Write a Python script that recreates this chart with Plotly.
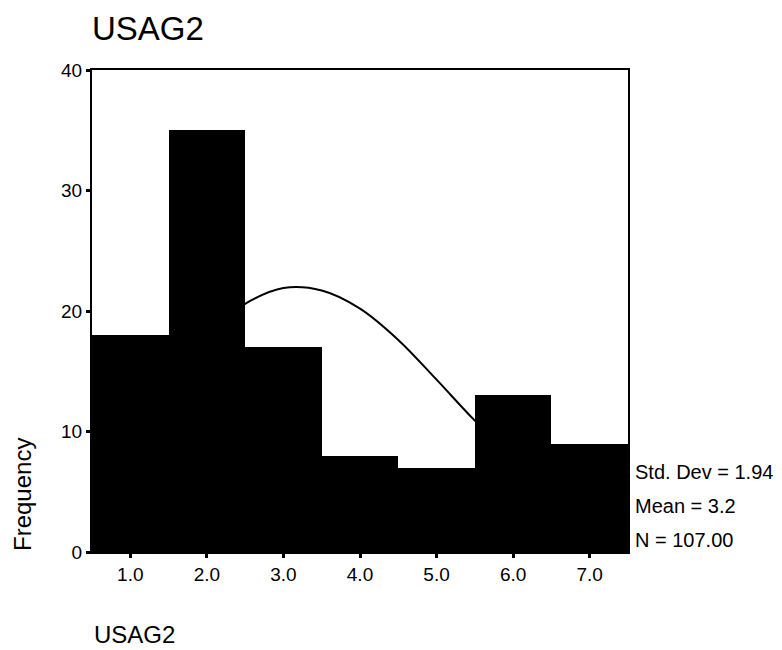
import plotly.graph_objects as go

# histogram of USAG2
bin_centers = [1, 2, 3, 4, 5, 6, 7]
frequencies = [18, 35, 17, 8, 7, 13, 9]

# fitted normal curve
curve_x = [0.5, 1.0, 1.5, 2.0, 2.5, 3.0, 3.5, 4.0, 4.5, 5.0, 5.5, 6.0, 6.5, 7.0, 7.5]
curve_y = [8.4, 11.6, 15.0, 18.2, 20.6, 21.9, 21.7, 20.2, 17.6, 14.3, 10.9, 7.8, 5.2, 3.2, 1.9]

stats_lines = ["Std. Dev = 1.94", "Mean = 3.2", "N = 107.00"]
x_ticks = [1, 2, 3, 4, 5, 6, 7]
y_ticks = [0, 10, 20, 30, 40]

FONT = "Liberation Sans, Arial, Helvetica, sans-serif"

# page body has an 8px margin, so the figure is drawn a bit smaller
W, H = 774, 642
L, T, R, B = 84, 62, 154, 98
PW, PH = W - L - R, H - T - B

fig = go.Figure()

# curve sits on the base axes so the bars (overlay axes) cover it
fig.add_trace(go.Scatter(
    x=curve_x, y=curve_y, mode="lines",
    line=dict(color="black", width=2, shape="spline"),
    xaxis="x", yaxis="y", showlegend=False, hoverinfo="skip",
))
fig.add_trace(go.Bar(
    x=bin_centers, y=frequencies, width=1,
    marker=dict(color="black", line=dict(width=0)),
    xaxis="x2", yaxis="y2", showlegend=False,
))

axis_font = dict(family=FONT, size=19, color="black")
fig.update_layout(
    width=W, height=H,
    margin=dict(l=L, r=R, t=T, b=B),
    paper_bgcolor="white", plot_bgcolor="white",
    bargap=0,
    xaxis=dict(
        range=[0.5, 7.5], tickvals=x_ticks, tickformat=".1f",
        ticks="outside", ticklen=4, tickwidth=3, tickcolor="black",
        showline=True, mirror=True, linecolor="black", linewidth=2,
        showgrid=False, zeroline=False, tickfont=axis_font,
    ),
    yaxis=dict(
        range=[0, 40], tickvals=y_ticks,
        ticks="outside", ticklen=4, tickwidth=3, tickcolor="black",
        showline=True, mirror=True, linecolor="black", linewidth=2,
        showgrid=False, zeroline=False, tickfont=axis_font,
    ),
    xaxis2=dict(range=[0.5, 7.5], overlaying="x", visible=False),
    yaxis2=dict(range=[0, 40], overlaying="y", visible=False),
    title=dict(
        text="USAG2", font=dict(family=FONT, size=33, color="black"),
        x=0, xref="paper", xanchor="left",
        y=1 - 20 / H, yref="container", yanchor="middle",
    ),
)

# y axis label sits low, like the original
fig.add_annotation(
    text="Frequency", textangle=-90, showarrow=False,
    xref="paper", yref="paper", x=(22 - 92) / PW, y=(552 - 495) / PH,
    xanchor="center", yanchor="middle",
    font=dict(family=FONT, size=24, color="black"),
)
fig.add_annotation(
    text="USAG2", showarrow=False,
    xref="paper", yref="paper", x=0, y=(552 - 634) / PH,
    xanchor="left", yanchor="middle",
    font=dict(family=FONT, size=24, color="black"),
)

for i, line in enumerate(stats_lines):
    fig.add_annotation(
        text=line, showarrow=False,
        xref="paper", yref="paper", x=(633 - 92) / PW,
        y=(552 - (472 + 34 * i)) / PH,
        xanchor="left", yanchor="middle",
        font=dict(family=FONT, size=20, color="black"),
    )

fig.write_html("out.html")
